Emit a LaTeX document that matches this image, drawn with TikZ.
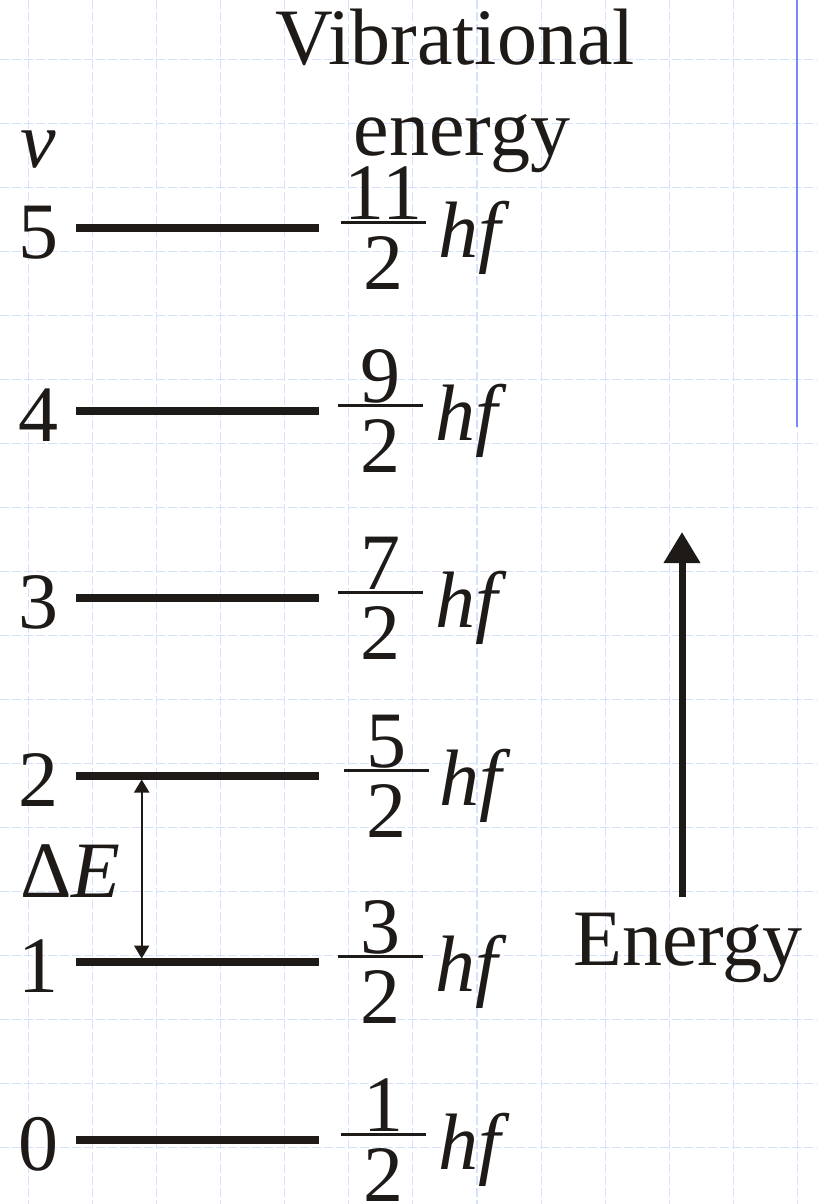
\documentclass[tikz,border=0pt]{standalone}
\usepackage{fontspec}
\setmainfont{Liberation Serif}
\usetikzlibrary{arrows.meta}
\definecolor{gridblue}{RGB}{214,224,255}
\definecolor{edgeblue}{RGB}{118,138,255}
\definecolor{inkblack}{RGB}{30,26,24}
\begin{document}
\begin{tikzpicture}[x=1pt,y=-1pt,
  txt/.style={inner sep=0pt,outer sep=0pt,text=inkblack,font=\fontsize{80}{90}\selectfont},
  levelline/.style={line width=7.5pt,draw=inkblack},
  fracbar/.style={line width=3pt,draw=inkblack},
  gridline/.style={draw=gridblue,line width=1.1pt,dash pattern=on 9pt off 3pt},
  bigarrow/.style={draw=inkblack,line width=7pt,-{Triangle[length=31pt,width=35pt]}},
  gaparrow/.style={draw=inkblack,line width=2pt,{Triangle[length=13pt,width=15pt]}-{Triangle[length=13pt,width=15pt]}}]
\useasboundingbox (0,0) rectangle (817,1204);
\fill[white] (0,0) rectangle (817,1204);
% grid
\foreach \k in {0,...,12} {
  \draw[gridline] ({28.3+64.1*\k},0) -- ({28.3+64.1*\k},1204);
}
\foreach \k in {0,...,17} {
  \draw[gridline] (0,{59.3+64*\k}) -- (817,{59.3+64*\k});
}
% blue edge line
\coordinate (btop) at (797,0);
\coordinate (bbot) at (797,427);
\draw[edgeblue,line width=2pt] (btop) -- (bbot);
% titles
\node[txt,anchor=base] (title1) at (455,65) {Vibrational};
\node[txt,anchor=base] (title2) at (462,155) {energy};
\node[txt,anchor=base west] (vlab) at (20,167) {\textit{v}};
% levels: name/y/numerator/barleft/barright/hfx
\foreach \n/\L/\N/\xa/\xb/\hx in {5/228/11/341/426/438, 4/411/9/338/423/435, 3/598/7/338/423/435, 2/776/5/344/429/439, 1/962/3/338/423/435, 0/1140/1/341/426/438} {
  \coordinate (l\n a) at (76,\L);
  \coordinate (l\n b) at (319,\L);
  \draw[levelline] (l\n a) -- (l\n b);
  \node[txt,anchor=base west] (num\n) at (18,\L+30) {\n};
  \coordinate (f\n a) at (\xa,\L-6);
  \coordinate (f\n b) at (\xb,\L-6);
  \draw[fracbar] (f\n a) -- (f\n b);
  \node[txt,anchor=base] (fn\n) at ({(\xa+\xb)/2},\L-9) {\N};
  \node[txt,anchor=base] (fd\n) at ({(\xa+\xb)/2},\L+61) {2};
  \node[txt,anchor=base west] (hf\n) at (\hx,\L+29) {\textit{hf}};
}
% Delta E
\coordinate (dtop) at (141.7,779.5);
\coordinate (dbot) at (141.7,958.5);
\draw[gaparrow] (dtop) -- (dbot);
\node[txt,anchor=base west] (dE) at (20,897) {Δ\textit{E}};
% Energy arrow
\node[txt,anchor=base] (energy) at (688,965) {Energy};
\coordinate (etop) at (682,532);
\coordinate (ebot) at (682,897);
\draw[bigarrow] (ebot) -- (etop);
\end{tikzpicture}
\end{document}
